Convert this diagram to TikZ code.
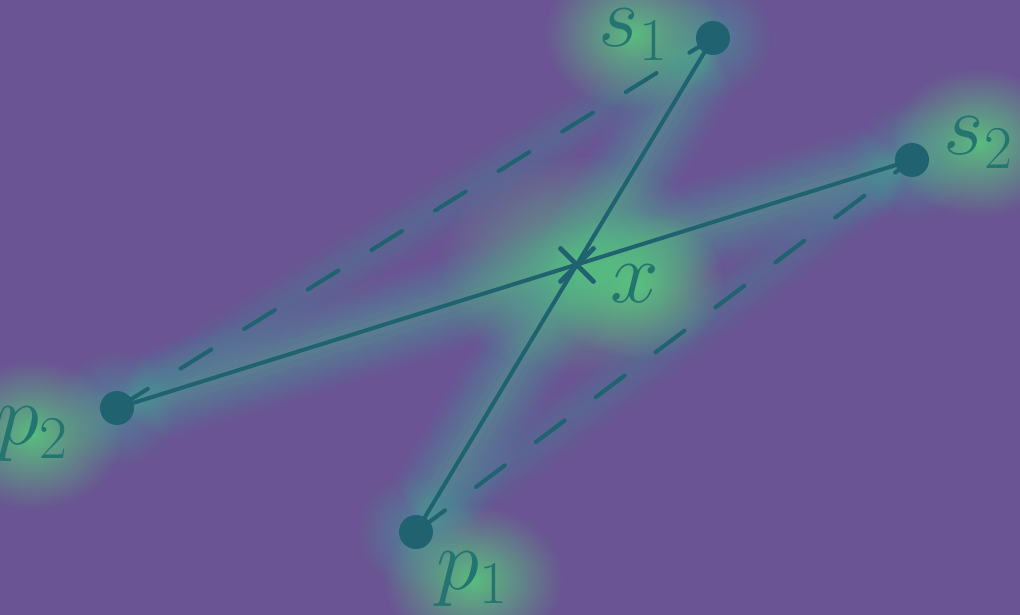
\documentclass[tikz,border=0pt]{standalone}
\usetikzlibrary{fadings,backgrounds,shapes.misc}
\definecolor{bgpurple}{RGB}{106,84,147}
\definecolor{glowblue}{RGB}{80,126,166}
\definecolor{glowteal}{RGB}{62,160,155}
\definecolor{glowgreen}{RGB}{88,200,125}
\definecolor{inkteal}{RGB}{32,98,112}
\definecolor{labelteal}{RGB}{36,116,112}
\tikzfading[name=softglow, inner color=transparent!0, outer color=transparent!100]
\tikzset{
  dot/.style={circle, fill=inkteal, inner sep=0pt, minimum size=3.4mm},
  lbl/.style={font=\fontsize{27}{32}\selectfont, text=labelteal, inner sep=0pt, anchor=base west},
  seg/.style={inkteal, line width=1.15pt},
  dseg/.style={inkteal, line width=1.15pt, dash pattern=on 10.3pt off 11pt},
  halo/.style={glowgreen, path fading=softglow},
}
\begin{document}
\begin{tikzpicture}[x=0.1mm,y=-0.1mm,line cap=round,line join=round]
  \useasboundingbox (0,0) rectangle (1020,615);
  \coordinate (s1) at (713,38);
  \coordinate (s2) at (912,160);
  \coordinate (p1) at (416,532);
  \coordinate (p2) at (117,408);
  \coordinate (x) at (577,265);
  % labels
  \node[lbl] (ls1) at (598,47) {$s_1$};
  \node[lbl] (ls2) at (943,155) {$s_2$};
  \node[lbl] (lx) at (610,303) {$x$};
  \node[lbl] (lp1) at (436,590) {$p_1$};
  \node[lbl] (lp2) at (-4,445) {$p_2$};
  % glow behind everything
  \begin{scope}[on background layer]
    \fill[bgpurple] (0,0) rectangle (1020,615);
    \foreach \w [evaluate=\w as \p using 100-5*\w] in {2,4,...,16}{
      \draw[glowteal!\p!glowblue,line width=\w pt,opacity=0.05,shorten <=0.4*\w pt,shorten >=0.4*\w pt] (p2) -- (s1);
      \draw[glowteal!\p!glowblue,line width=\w pt,opacity=0.05,shorten <=0.4*\w pt,shorten >=0.4*\w pt] (p1) -- (s2);
    }
    \foreach \w [evaluate=\w as \p using 100-3.6*\w] in {2,4,...,26}{
      \draw[glowgreen!\p!glowblue,line width=\w pt,opacity=0.075,shorten <=0.4*\w pt,shorten >=0.4*\w pt] (p1) -- (s1);
      \draw[glowgreen!\p!glowblue,line width=\w pt,opacity=0.075,shorten <=0.4*\w pt,shorten >=0.4*\w pt] (p2) -- (s2);
    }
    \fill[halo, opacity=0.7] (x) ellipse (1.4cm and 1.1cm);
    \foreach \n in {s1,s2,p1,p2}
      \fill[glowteal, path fading=softglow, opacity=0.6] (\n) circle (6mm);
    \foreach \n in {ls1,ls2,lx,lp1,lp2}
      \fill[halo, opacity=0.9] (\n.center) ellipse (0.9cm and 0.75cm);
  \end{scope}
  % connectors
  \draw[dseg] (p2) -- (s1);
  \draw[dseg] (p1) -- (s2);
  \draw[seg] (p1) -- (s1);
  \draw[seg] (p2) -- (s2);
  \node[draw=inkteal, cross out, line width=1.4pt, minimum size=2.8mm, inner sep=0pt] (xm) at (x) {};
  % points
  \foreach \n in {s1,s2,p1,p2}
    \node[dot] (\n dot) at (\n) {};
\end{tikzpicture}
\end{document}
